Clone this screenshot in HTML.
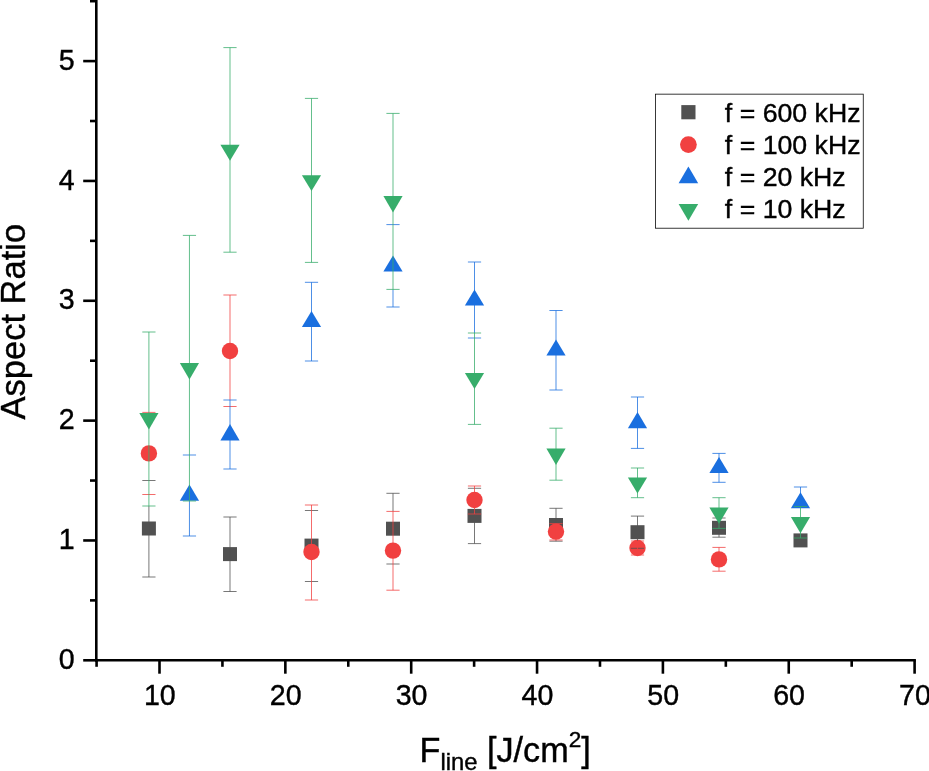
<!DOCTYPE html>
<html lang="en"><head><meta charset="utf-8"><title>Aspect Ratio vs F line</title>
<style>html,body{margin:0;padding:0;background:#fff;}body{width:929px;height:771px;overflow:hidden;}svg{display:block;}text{font-family:"Liberation Sans",Arial,Helvetica,sans-serif;fill:#000;stroke:#000;stroke-width:0.4px;}</style></head><body>
<svg width="929" height="771" viewBox="0 0 929 771">
<rect width="929" height="771" fill="#fff"/>
<g>
<rect x="141.90" y="521.50" width="14.0" height="14.0" fill="#515151"/>
<rect x="223.00" y="547.10" width="14.0" height="14.0" fill="#515151"/>
<rect x="304.50" y="538.60" width="14.0" height="14.0" fill="#515151"/>
<rect x="386.00" y="521.70" width="14.0" height="14.0" fill="#515151"/>
<rect x="467.50" y="508.90" width="14.0" height="14.0" fill="#515151"/>
<rect x="549.00" y="518.00" width="14.0" height="14.0" fill="#515151"/>
<rect x="630.50" y="525.20" width="14.0" height="14.0" fill="#515151"/>
<rect x="712.00" y="520.80" width="14.0" height="14.0" fill="#515151"/>
<rect x="793.50" y="533.40" width="14.0" height="14.0" fill="#515151"/>
<circle cx="148.90" cy="453.40" r="8.20" fill="#F14040"/>
<circle cx="230.00" cy="351.00" r="8.20" fill="#F14040"/>
<circle cx="311.50" cy="552.00" r="8.20" fill="#F14040"/>
<circle cx="393.00" cy="550.60" r="8.20" fill="#F14040"/>
<circle cx="474.50" cy="500.00" r="8.20" fill="#F14040"/>
<circle cx="556.00" cy="531.60" r="8.20" fill="#F14040"/>
<circle cx="637.50" cy="548.00" r="8.20" fill="#F14040"/>
<circle cx="719.00" cy="559.40" r="8.20" fill="#F14040"/>
<polygon points="189.45,484.40 199.05,500.80 179.85,500.80" fill="#1A6FDF"/>
<polygon points="230.00,424.00 239.60,440.40 220.40,440.40" fill="#1A6FDF"/>
<polygon points="311.50,311.00 321.10,327.00 301.90,327.00" fill="#1A6FDF"/>
<polygon points="393.00,255.40 402.60,271.40 383.40,271.40" fill="#1A6FDF"/>
<polygon points="474.50,289.40 484.10,305.60 464.90,305.60" fill="#1A6FDF"/>
<polygon points="556.00,339.60 565.60,355.60 546.40,355.60" fill="#1A6FDF"/>
<polygon points="637.50,412.00 647.10,428.20 627.90,428.20" fill="#1A6FDF"/>
<polygon points="719.00,457.00 728.60,473.00 709.40,473.00" fill="#1A6FDF"/>
<polygon points="800.50,492.20 810.10,508.30 790.90,508.30" fill="#1A6FDF"/>
</g>
<g stroke="#515151" stroke-width="0.78" fill="none">
<path d="M148.90,506.00V577.00"/>
<path d="M142.30,480.50H155.50"/>
<path d="M142.30,577.00H155.50"/>
<path d="M230.00,517.00V591.50"/>
<path d="M223.40,517.00H236.60"/>
<path d="M223.40,591.50H236.60"/>
<path d="M304.90,510.50H318.10"/>
<path d="M304.90,581.50H318.10"/>
<path d="M393.00,493.30V511.40"/>
<path d="M386.40,493.30H399.60"/>
<path d="M386.40,564.00H399.60"/>
<path d="M474.50,514.00V543.60"/>
<path d="M467.90,488.30H481.10"/>
<path d="M467.90,543.60H481.10"/>
<path d="M556.00,508.30V523.60"/>
<path d="M556.00,540.00V541.20"/>
<path d="M549.40,508.30H562.60"/>
<path d="M549.40,541.20H562.60"/>
<path d="M637.50,516.10V541.00"/>
<path d="M630.90,516.10H644.10"/>
<path d="M630.90,548.30H644.10"/>
<path d="M719.00,528.40V537.20"/>
<path d="M712.40,518.00H725.60"/>
<path d="M712.40,537.20H725.60"/>
</g>
<g stroke="#F14040" stroke-width="0.78" fill="none">
<path d="M142.30,412.40H155.50"/>
<path d="M142.30,494.50H155.50"/>
<path d="M230.00,295.00V400.00"/>
<path d="M223.40,295.00H236.60"/>
<path d="M223.40,406.50H236.60"/>
<path d="M311.50,505.00V600.00"/>
<path d="M304.90,505.00H318.10"/>
<path d="M304.90,600.00H318.10"/>
<path d="M393.00,511.40V590.20"/>
<path d="M386.40,511.40H399.60"/>
<path d="M386.40,590.20H399.60"/>
<path d="M474.50,486.00V514.00"/>
<path d="M467.90,486.00H481.10"/>
<path d="M467.90,514.00H481.10"/>
<path d="M556.00,523.60V540.00"/>
<path d="M549.40,523.60H562.60"/>
<path d="M549.40,540.00H562.60"/>
<path d="M637.50,541.00V555.00"/>
<path d="M630.90,541.00H644.10"/>
<path d="M630.90,555.00H644.10"/>
<path d="M719.00,547.40V571.20"/>
<path d="M712.40,547.40H725.60"/>
<path d="M712.40,571.20H725.60"/>
</g>
<g stroke="#1A6FDF" stroke-width="0.78" fill="none">
<path d="M189.45,501.00V536.00"/>
<path d="M182.85,455.00H196.05"/>
<path d="M182.85,536.00H196.05"/>
<path d="M230.00,400.00V469.00"/>
<path d="M223.40,400.00H236.60"/>
<path d="M223.40,469.00H236.60"/>
<path d="M311.50,282.30V361.00"/>
<path d="M304.90,282.30H318.10"/>
<path d="M304.90,361.00H318.10"/>
<path d="M393.00,289.40V307.00"/>
<path d="M386.40,224.60H399.60"/>
<path d="M386.40,307.00H399.60"/>
<path d="M474.50,262.00V333.00"/>
<path d="M467.90,262.00H481.10"/>
<path d="M467.90,338.00H481.10"/>
<path d="M556.00,310.50V390.00"/>
<path d="M549.40,310.50H562.60"/>
<path d="M549.40,390.00H562.60"/>
<path d="M637.50,397.00V448.40"/>
<path d="M630.90,397.00H644.10"/>
<path d="M630.90,448.40H644.10"/>
<path d="M719.00,453.40V482.30"/>
<path d="M712.40,453.40H725.60"/>
<path d="M712.40,482.30H725.60"/>
<path d="M800.50,487.00V506.50"/>
<path d="M793.90,487.00H807.10"/>
</g>
<g>
<polygon points="139.30,413.00 158.50,413.00 148.90,429.40" fill="#37AD6B"/>
<polygon points="179.85,363.00 199.05,363.00 189.45,379.40" fill="#37AD6B"/>
<polygon points="220.40,144.80 239.60,144.80 230.00,160.80" fill="#37AD6B"/>
<polygon points="301.90,175.20 321.10,175.20 311.50,191.00" fill="#37AD6B"/>
<polygon points="383.40,196.00 402.60,196.00 393.00,212.40" fill="#37AD6B"/>
<polygon points="464.90,373.00 484.10,373.00 474.50,389.00" fill="#37AD6B"/>
<polygon points="546.40,448.60 565.60,448.60 556.00,465.00" fill="#37AD6B"/>
<polygon points="627.90,477.40 647.10,477.40 637.50,493.60" fill="#37AD6B"/>
<polygon points="709.40,507.50 728.60,507.50 719.00,523.80" fill="#37AD6B"/>
<polygon points="790.90,517.00 810.10,517.00 800.50,533.20" fill="#37AD6B"/>
</g>
<g stroke="#37AD6B" stroke-width="0.78" fill="none">
<path d="M148.90,332.00V506.00"/>
<path d="M142.30,332.00H155.50"/>
<path d="M142.30,506.00H155.50"/>
<path d="M189.45,235.40V501.00"/>
<path d="M182.85,235.40H196.05"/>
<path d="M182.85,501.00H196.05"/>
<path d="M230.00,47.60V252.20"/>
<path d="M223.40,47.60H236.60"/>
<path d="M223.40,252.20H236.60"/>
<path d="M311.50,98.40V262.40"/>
<path d="M304.90,98.40H318.10"/>
<path d="M304.90,262.40H318.10"/>
<path d="M393.00,113.40V289.40"/>
<path d="M386.40,113.40H399.60"/>
<path d="M386.40,289.40H399.60"/>
<path d="M474.50,333.00V424.40"/>
<path d="M467.90,333.00H481.10"/>
<path d="M467.90,424.40H481.10"/>
<path d="M556.00,428.20V480.20"/>
<path d="M549.40,428.20H562.60"/>
<path d="M549.40,480.20H562.60"/>
<path d="M637.50,468.00V497.70"/>
<path d="M630.90,468.00H644.10"/>
<path d="M630.90,497.70H644.10"/>
<path d="M719.00,497.70V528.40"/>
<path d="M712.40,497.70H725.60"/>
<path d="M712.40,528.40H725.60"/>
<path d="M800.50,506.50V538.00"/>
<path d="M793.90,506.50H807.10"/>
<path d="M793.90,538.00H807.10"/>
</g>
<g stroke="#000" stroke-width="2.6" fill="none">
<path d="M96.3,0V661.5999999999999"/>
<path d="M95.0,660.3H915.9"/>
<path d="M96.58,660.3V666.8"/>
<path d="M159.50,660.3V673.7"/>
<path d="M222.43,660.3V666.8"/>
<path d="M285.35,660.3V673.7"/>
<path d="M348.27,660.3V666.8"/>
<path d="M411.20,660.3V673.7"/>
<path d="M474.12,660.3V666.8"/>
<path d="M537.05,660.3V673.7"/>
<path d="M599.98,660.3V666.8"/>
<path d="M662.90,660.3V673.7"/>
<path d="M725.83,660.3V666.8"/>
<path d="M788.75,660.3V673.7"/>
<path d="M851.68,660.3V666.8"/>
<path d="M914.60,660.3V673.7"/>
<path d="M96.3,660.30H83.2"/>
<path d="M96.3,600.38H90.0"/>
<path d="M96.3,540.46H83.2"/>
<path d="M96.3,480.54H90.0"/>
<path d="M96.3,420.62H83.2"/>
<path d="M96.3,360.70H90.0"/>
<path d="M96.3,300.78H83.2"/>
<path d="M96.3,240.86H90.0"/>
<path d="M96.3,180.94H83.2"/>
<path d="M96.3,121.02H90.0"/>
<path d="M96.3,61.10H83.2"/>
<path d="M96.3,1.18H90.0"/>
</g>
<g font-size="28.6" text-anchor="middle">
<text x="159.85" y="704.8">10</text>
<text x="285.70" y="704.8">20</text>
<text x="411.55" y="704.8">30</text>
<text x="537.40" y="704.8">40</text>
<text x="663.25" y="704.8">50</text>
<text x="789.10" y="704.8">60</text>
<text x="914.95" y="704.8">70</text>
</g>
<g font-size="28.6" text-anchor="end">
<text x="74.7" y="668.90">0</text>
<text x="74.7" y="549.06">1</text>
<text x="74.7" y="429.22">2</text>
<text x="74.7" y="309.38">3</text>
<text x="74.7" y="189.54">4</text>
<text x="74.7" y="69.70">5</text>
</g>
<text font-size="34.5" transform="translate(24.8,419.5) rotate(-90)">Aspect Ratio</text>
<text font-size="34.2" x="419.6" y="761.8">F<tspan font-size="23.8" dy="7.9">line</tspan><tspan dy="-7.9"> [J/cm</tspan><tspan font-size="22.6" dy="-14.6">2</tspan><tspan dy="14.6">]</tspan></text>
<rect x="655.5" y="94.15" width="207.75" height="134.05" fill="#fff" stroke="#000" stroke-width="0.78"/>
<rect x="681.3" y="105.10000000000001" width="14.2" height="14.2" fill="#515151"/>
<circle cx="688.4" cy="144.6" r="8.4" fill="#F14040"/>
<polygon points="688.4,166.5 698.1999999999999,183.3 678.6,183.3" fill="#1A6FDF"/>
<polygon points="678.6,204 698.1999999999999,204 688.4,220.8" fill="#37AD6B"/>
<g font-size="26.7">
<text x="724.8" y="121.8">f = 600 kHz</text>
<text x="724.8" y="154.0">f = 100 kHz</text>
<text x="724.8" y="186.2">f = 20 kHz</text>
<text x="724.8" y="218.4">f = 10 kHz</text>
</g>
</svg></body></html>
